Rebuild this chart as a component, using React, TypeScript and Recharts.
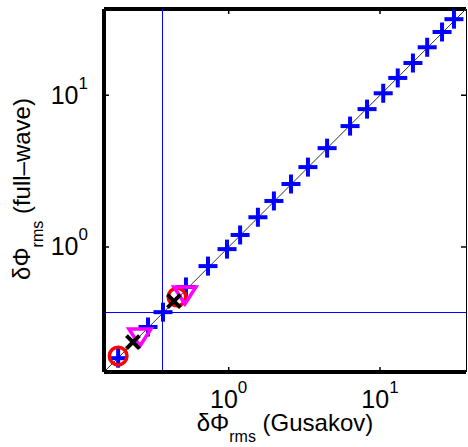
import { ReferenceLine, Scatter, ScatterChart, XAxis, YAxis } from "recharts";

const FONT = '"Liberation Sans", Arial, Helvetica, sans-serif';

// rms phase fluctuation: Gusakov estimate (x) vs full-wave simulation (y)
const plusX = [0.186, 0.293, 0.368, 0.522, 0.73, 0.975, 1.19, 1.56, 1.99, 2.58, 3.34, 4.47, 6.34, 8.21, 10.5, 13.1, 16.5, 20.5, 25.7, 30.8];
const plusY = [0.185, 0.297, 0.372, 0.545, 0.748, 0.968, 1.2, 1.57, 2.01, 2.6, 3.36, 4.48, 6.26, 8.1, 10.3, 13.0, 16.3, 20.7, 26.1, 31.7];
const circleX = [0.186, 0.456];
const circleY = [0.191, 0.468];
const triX = [0.259, 0.514];
const triY = [0.255, 0.482];
const crossX = [0.233, 0.435];
const crossY = [0.236, 0.44];
const threshold = 0.368;
const axisMin = 0.15;
const axisMax = 37;
const xTicks = [1, 10];
const yTicks = [1, 10];

const zip = (xs: number[], ys: number[]) => xs.map((x, i) => ({ x, y: ys[i] }));

const PLOT = { left: 104, right: 466, top: 9, bottom: 372 };

function Plus({ cx, cy }: any) {
  return (
    <g stroke="#0000ff" strokeWidth={4}>
      <line x1={cx - 9.5} y1={cy} x2={cx + 9.5} y2={cy} />
      <line x1={cx} y1={cy - 9.5} x2={cx} y2={cy + 9.5} />
    </g>
  );
}

function Ring({ cx, cy }: any) {
  return <circle cx={cx} cy={cy} r={8.8} fill="none" stroke="#ff0000" strokeWidth={3.5} />;
}

function TriDown({ cx, cy }: any) {
  const pts = `${cx - 11},${cy - 8} ${cx + 11},${cy - 8} ${cx},${cy + 9}`;
  return <polygon points={pts} fill="none" stroke="#ff00ff" strokeWidth={3.5} />;
}

function Cross({ cx, cy }: any) {
  return (
    <g stroke="#000" strokeWidth={4}>
      <line x1={cx - 6.5} y1={cy - 6.5} x2={cx + 6.5} y2={cy + 6.5} />
      <line x1={cx - 6.5} y1={cy + 6.5} x2={cx + 6.5} y2={cy - 6.5} />
    </g>
  );
}

function exponent(v: number) {
  return String(Math.round(Math.log10(v)));
}

function XTick({ x, payload }: any) {
  return (
    <g>
      <line x1={x} y1={PLOT.bottom} x2={x} y2={PLOT.bottom - 5} stroke="#000" strokeWidth={1.5} />
      <line x1={x} y1={PLOT.top} x2={x} y2={PLOT.top + 5} stroke="#000" strokeWidth={1.5} />
      <text x={x} y={408} textAnchor="middle" fontFamily={FONT} fontSize={25} fill="#000">
        10<tspan dy={-15} fontSize={17}>{exponent(payload.value)}</tspan>
      </text>
    </g>
  );
}

function YTick({ y, payload }: any) {
  return (
    <g>
      <line x1={PLOT.left} y1={y} x2={PLOT.left + 5} y2={y} stroke="#000" strokeWidth={1.5} />
      <line x1={PLOT.right} y1={y} x2={PLOT.right - 5} y2={y} stroke="#000" strokeWidth={1.5} />
      <text x={88} y={y + 8.5} textAnchor="end" fontFamily={FONT} fontSize={25} fill="#000">
        10<tspan dy={-15} fontSize={17}>{exponent(payload.value)}</tspan>
      </text>
    </g>
  );
}

const xLabel = () => (
  <text x={285} y={431} textAnchor="middle" fontFamily={FONT} fontSize={24} fill="#000">
    δΦ<tspan dy={11} fontSize={16}>rms</tspan>
    <tspan dy={-11}> (Gusakov)</tspan>
  </text>
);

const yLabel = () => (
  <text
    transform="translate(30, 189) rotate(-90)"
    textAnchor="middle"
    fontFamily={FONT}
    fontSize={24}
    fill="#000"
  >
    δΦ<tspan dy={13} fontSize={16}>rms</tspan>
    <tspan dy={-13}> (full–wave)</tspan>
  </text>
);

export default function App() {
  return (
    <div style={{ position: "absolute", left: 0, top: 0, background: "#fff" }}>
      <ScatterChart width={468} height={447} margin={{ top: 9, right: 2, bottom: 0, left: 0 }}>
        <XAxis
          type="number"
          dataKey="x"
          scale="log"
          domain={[axisMin, axisMax]}
          allowDataOverflow
          ticks={xTicks}
          height={75}
          tickLine={false}
          axisLine={{ stroke: "#000", strokeWidth: 4 }}
          tick={XTick}
          label={{ content: xLabel }}
        />
        <YAxis
          type="number"
          dataKey="y"
          scale="log"
          domain={[axisMin, axisMax]}
          allowDataOverflow
          ticks={yTicks}
          width={104}
          tickLine={false}
          axisLine={{ stroke: "#000", strokeWidth: 4 }}
          tick={YTick}
          label={{ content: yLabel }}
        />
        <ReferenceLine y={axisMax} stroke="#000" strokeWidth={4} />
        <ReferenceLine x={axisMax} stroke="#000" strokeWidth={1} shapeRendering="crispEdges" />
        <ReferenceLine
          segment={[
            { x: axisMin, y: axisMin },
            { x: axisMax, y: axisMax },
          ]}
          stroke="#333"
          strokeWidth={1}
        />
        <ReferenceLine x={threshold} stroke="#0000ff" strokeWidth={1} shapeRendering="crispEdges" />
        <ReferenceLine y={threshold} stroke="#0000ff" strokeWidth={1} shapeRendering="crispEdges" />
        <Scatter data={zip(plusX, plusY)} shape={Plus} isAnimationActive={false} />
        <Scatter data={zip(circleX, circleY)} shape={Ring} isAnimationActive={false} />
        <Scatter data={zip(triX, triY)} shape={TriDown} isAnimationActive={false} />
        <Scatter data={zip(crossX, crossY)} shape={Cross} isAnimationActive={false} />
      </ScatterChart>
    </div>
  );
}
